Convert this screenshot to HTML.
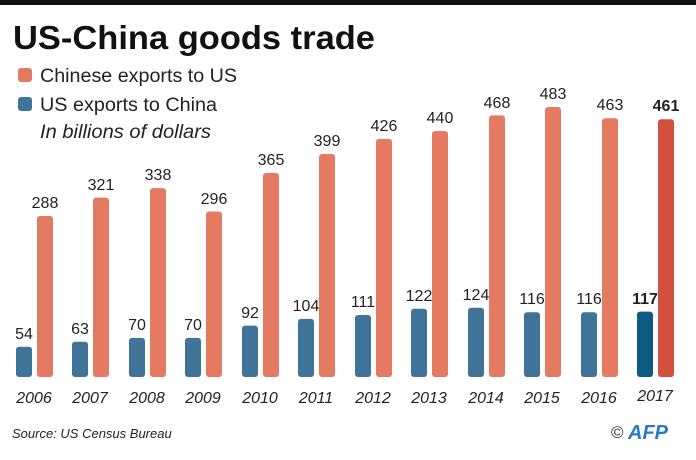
<!DOCTYPE html><html><head><style>
body{margin:0;width:696px;height:455px;background:#fff;overflow:hidden;font-family:"Liberation Sans",sans-serif}
</style></head><body>
<svg width="696" height="455" xmlns="http://www.w3.org/2000/svg" font-family="Liberation Sans, sans-serif">
<rect x="0" y="0" width="696" height="5" fill="#111"/>
<text x="13" y="49" font-size="33" font-weight="bold" fill="#111" textLength="362" lengthAdjust="spacingAndGlyphs">US-China goods trade</text>
<rect x="18" y="68" width="14" height="14" rx="3" fill="#e57a63"/>
<text x="40" y="82" font-size="19" fill="#222" textLength="197" lengthAdjust="spacingAndGlyphs">Chinese exports to US</text>
<rect x="18" y="97" width="14" height="14" rx="3" fill="#3f7498"/>
<text x="40" y="111" font-size="19" fill="#222" textLength="177" lengthAdjust="spacingAndGlyphs">US exports to China</text>
<text x="40" y="138" font-size="19" font-style="italic" fill="#222" textLength="171" lengthAdjust="spacingAndGlyphs">In billions of dollars</text>

<g fill="#3f7498">
<rect x="16" y="346.8" width="16" height="30.2" rx="3"/>
<rect x="72" y="341.8" width="16" height="35.2" rx="3"/>
<rect x="129" y="337.9" width="16" height="39.1" rx="3"/>
<rect x="185" y="337.9" width="16" height="39.1" rx="3"/>
<rect x="242" y="325.6" width="16" height="51.4" rx="3"/>
<rect x="298" y="318.9" width="16" height="58.1" rx="3"/>
<rect x="355" y="315" width="16" height="62" rx="3"/>
<rect x="411" y="308.8" width="16" height="68.2" rx="3"/>
<rect x="468" y="307.7" width="16" height="69.3" rx="3"/>
<rect x="524" y="312.2" width="16" height="64.8" rx="3"/>
<rect x="581" y="312.2" width="16" height="64.8" rx="3"/>
<rect x="637" y="311.6" width="16" height="65.4" rx="3" fill="#0d5a82"/>
</g>
<g fill="#e57a63">
<rect x="37" y="216" width="16" height="161" rx="3"/>
<rect x="93" y="197.6" width="16" height="179.4" rx="3"/>
<rect x="150" y="188.1" width="16" height="188.9" rx="3"/>
<rect x="206" y="211.5" width="16" height="165.5" rx="3"/>
<rect x="263" y="173" width="16" height="204" rx="3"/>
<rect x="319" y="154" width="16" height="223" rx="3"/>
<rect x="376" y="138.9" width="16" height="238.1" rx="3"/>
<rect x="432" y="131" width="16" height="246" rx="3"/>
<rect x="489" y="115.4" width="16" height="261.6" rx="3"/>
<rect x="545" y="107" width="16" height="270" rx="3"/>
<rect x="602" y="118.2" width="16" height="258.8" rx="3"/>
<rect x="658" y="119.3" width="16" height="257.7" rx="3" fill="#d2503d"/>
</g>
<g font-size="16" text-anchor="middle" fill="#222">
<text x="24" y="339">54</text>
<text x="80" y="334">63</text>
<text x="137" y="330">70</text>
<text x="193" y="330">70</text>
<text x="250" y="318">92</text>
<text x="306" y="311">104</text>
<text x="363" y="307">111</text>
<text x="419" y="301">122</text>
<text x="476" y="300">124</text>
<text x="532" y="304">116</text>
<text x="589" y="304">116</text>
<text x="645" y="304" font-weight="bold">117</text>
<text x="45" y="208">288</text>
<text x="101" y="190">321</text>
<text x="158" y="180">338</text>
<text x="214" y="204">296</text>
<text x="271" y="165">365</text>
<text x="327" y="146">399</text>
<text x="384" y="131">426</text>
<text x="440" y="123">440</text>
<text x="497" y="108">468</text>
<text x="553" y="99">483</text>
<text x="610" y="110">463</text>
<text x="666" y="111" font-weight="bold">461</text>
</g>
<g font-size="16" font-style="italic" text-anchor="middle" fill="#222">
<text x="34" y="403">2006</text>
<text x="90" y="403">2007</text>
<text x="147" y="403">2008</text>
<text x="203" y="403">2009</text>
<text x="260" y="403">2010</text>
<text x="316" y="403">2011</text>
<text x="373" y="403">2012</text>
<text x="429" y="403">2013</text>
<text x="486" y="403">2014</text>
<text x="542" y="403">2015</text>
<text x="599" y="403">2016</text>
<text x="655" y="401">2017</text>
</g>
<text x="12" y="438" font-size="13" font-style="italic" fill="#222">Source: US Census Bureau</text>
<text x="611" y="438" font-size="17" fill="#333">©</text>
<text x="628" y="439" font-size="20" font-weight="bold" font-style="italic" fill="#2a7bc0">AFP</text>
</svg>
</body></html>
